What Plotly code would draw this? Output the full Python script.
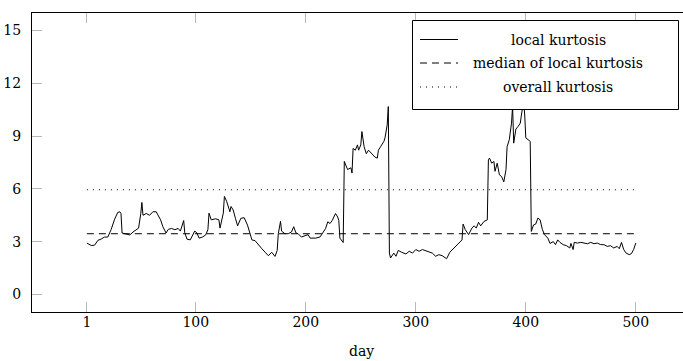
import plotly.graph_objects as go

days = [1, 5, 8, 11, 14, 17, 20, 21, 23, 26, 29, 31, 32, 33, 37, 40, 43, 46, 48, 50,
        51, 52, 55, 58, 60, 61, 64, 66, 68, 70, 73, 75, 78, 81, 84, 86, 89, 90, 92, 95,
        97, 99, 101, 103, 106, 109, 111, 112, 114, 118, 121, 122, 125, 126, 128, 131, 132, 134, 136, 138,
        141, 144, 147, 150, 151, 154, 157, 160, 163, 166, 169, 172, 174, 175, 177, 178, 181, 184, 187, 189,
        191, 193, 196, 199, 202, 204, 209, 213, 215, 218, 220, 222, 224, 227, 229, 230, 231, 234, 235, 238,
        241, 242, 243, 245, 247, 248, 250, 251, 253, 255, 257, 260, 263, 265, 266, 268, 271, 272, 274, 275,
        276, 277, 280, 282, 284, 287, 291, 294, 297, 300, 303, 306, 311, 315, 318, 321, 324, 328, 331, 334,
        337, 340, 342, 343, 345, 348, 351, 353, 355, 357, 359, 362, 365, 366, 367, 369, 371, 372, 374, 376,
        378, 380, 382, 383, 385, 387, 388, 389, 391, 393, 395, 396, 398, 399, 400, 402, 404, 405, 407, 409,
        411, 413, 415, 417, 420, 422, 425, 427, 429, 431, 434, 437, 440, 441, 443, 444, 447, 450, 453, 456,
        459, 462, 465, 468, 471, 474, 477, 480, 483, 485, 487, 489, 491, 494, 496, 498, 500]
local_kurtosis = [2.92, 2.78, 2.8, 3.07, 3.15, 3.26, 3.26, 3.4, 3.68, 4.24, 4.66, 4.7, 4.6, 3.49, 3.45, 3.38, 3.55, 3.7, 3.77, 4.6,
                  5.23, 4.5, 4.6, 4.5, 4.66, 4.7, 4.7, 4.5, 4.24, 3.86, 3.49, 3.7, 3.75, 3.68, 3.75, 3.6, 4.2, 3.5, 3.14, 3.1,
                  3.4, 3.6, 3.5, 3.2, 3.26, 3.38, 3.68, 4.62, 4.24, 4.3, 4.24, 3.77, 4.62, 5.57, 5.3, 4.7, 5.0, 4.8, 4.33, 3.9,
                  4.33, 4.36, 3.94, 3.38, 3.1, 3.05, 2.8, 2.6, 2.4, 2.2, 2.4, 2.16, 2.5, 3.45, 4.15, 3.6, 3.45, 3.45, 3.55, 3.85,
                  3.5, 3.45, 3.26, 3.33, 3.4, 3.2, 3.2, 3.27, 3.47, 3.75, 4.13, 4.03, 4.2, 4.6, 4.4, 4.2, 3.2, 2.95, 7.56, 7.1,
                  7.2, 6.9, 8.3, 8.2, 8.5, 8.2, 8.5, 9.26, 8.4, 8.0, 8.2, 8.0, 7.8, 7.75, 8.2, 8.4, 8.7, 8.9, 9.64, 10.68,
                  2.35, 2.07, 2.35, 2.17, 2.5, 2.4, 2.3, 2.45, 2.35, 2.55, 2.45, 2.55, 2.45, 2.35, 2.17, 2.26, 2.2, 2.03, 2.4, 2.6,
                  2.75, 2.95, 3.1, 4.0, 3.68, 3.4, 3.77, 3.9, 3.77, 4.1, 3.9, 4.15, 4.24, 7.65, 7.75, 7.46, 7.56, 7.0, 7.46, 6.8,
                  6.7, 6.4, 7.1, 8.4, 8.8, 9.74, 10.7, 8.6, 9.4, 9.55, 9.74, 10.2, 11.0, 10.2, 8.9, 8.8, 8.7, 3.58, 3.95, 4.0,
                  4.34, 4.24, 3.7, 3.4, 3.2, 2.9, 3.0, 2.83, 3.1, 2.96, 2.83, 2.77, 2.64, 2.9, 2.55, 2.96, 2.92, 2.96, 2.92, 2.88,
                  2.96, 2.88, 2.92, 2.83, 2.83, 2.73, 2.77, 2.64, 2.73, 2.6, 2.96, 2.55, 2.36, 2.26, 2.32, 2.55, 2.92]

median_local = 3.45
overall_kurtosis = 5.95
x_ticks = [1, 100, 200, 300, 400, 500]
y_ticks = [0, 3, 6, 9, 12, 15]
legend_labels = ["local kurtosis", "median of local kurtosis", "overall kurtosis"]

FONT = "DejaVu Serif"
FS = 14
fig = go.Figure()
fig.add_trace(go.Scatter(x=days, y=local_kurtosis, mode="lines",
                         line=dict(color="black", width=1), showlegend=False))
fig.add_trace(go.Scatter(x=[days[0], days[-1]], y=[median_local, median_local], mode="lines",
                         line=dict(color="black", width=1, dash="7px,5px"), showlegend=False))
fig.add_trace(go.Scatter(x=[days[0], days[-1]], y=[overall_kurtosis, overall_kurtosis], mode="lines",
                         line=dict(color="black", width=1, dash="1px,5px"), showlegend=False))

W, H = 683, 361
ml, mr, mt, mb = 32, 0, 13, 49
pw, ph = W - ml - mr, H - mt - mb
def px(x):
    return (x - ml) / pw
def py(y):
    return (H - mb - y) / ph

shapes = [dict(type="rect", xref="paper", yref="paper", x0=px(412.5), x1=px(678.5), y0=py(109.5), y1=py(20.5),
               line=dict(color="black", width=1), fillcolor="white", layer="above")]
rows = [39.5, 63, 87]
dashes = ["solid", "7px,5px", "1px,5px"]
annotations = []
for lab, ry, d in zip(legend_labels, rows, dashes):
    shapes.append(dict(type="line", xref="paper", yref="paper", x0=px(420), x1=px(458), y0=py(ry), y1=py(ry),
                       line=dict(color="black", width=1, dash=d), layer="above"))
    annotations.append(dict(text=lab, xref="paper", yref="paper", x=px(558), y=py(ry), xanchor="center",
                            yanchor="middle", showarrow=False, font=dict(family=FONT, size=FS, color="black")))
annotations.append(dict(text="day", xref="x", yref="paper", x=250.5, y=py(351), xanchor="center",
                        yanchor="middle", showarrow=False, font=dict(family=FONT, size=FS, color="black")))

fig.update_layout(
    width=W, height=H, margin=dict(l=ml, r=mr, t=mt, b=mb),
    paper_bgcolor="white", plot_bgcolor="white",
    font=dict(family=FONT, size=FS, color="black"),
    shapes=shapes, annotations=annotations,
    xaxis=dict(range=[-48.9, 542.9], tickvals=x_ticks, ticks="inside", ticklen=10, tickcolor="#b8b8b8",
               tickwidth=1, showline=True, linecolor="black", linewidth=1, mirror="ticks",
               showgrid=False, zeroline=False, ticklabelstandoff=-3,
               tickfont=dict(family=FONT, size=FS, color="black")),
    yaxis=dict(range=[-1, 16], tickvals=y_ticks, ticks="inside", ticklen=10, tickcolor="#b8b8b8",
               tickwidth=1, showline=True, linecolor="black", linewidth=1, mirror=False,
               showgrid=False, zeroline=False, ticklabelstandoff=7,
               tickfont=dict(family=FONT, size=FS, color="black")),
)
fig.write_html("out.html")
